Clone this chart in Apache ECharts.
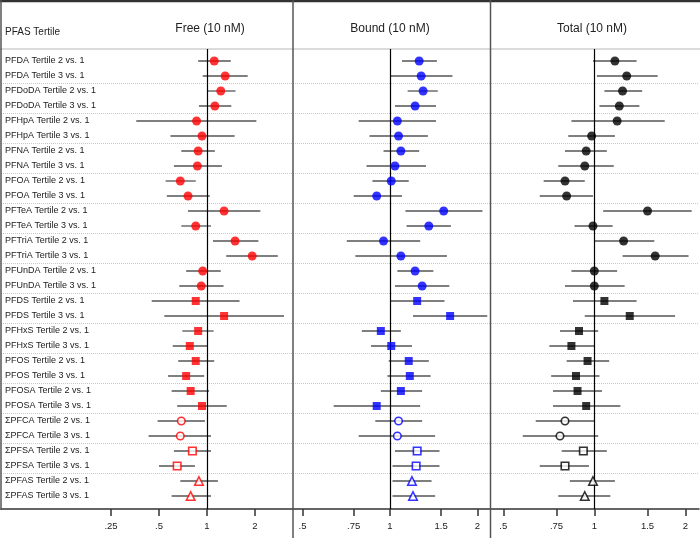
<!DOCTYPE html>
<html>
<head>
<meta charset="utf-8">
<script src="https://cdn.jsdelivr.net/npm/echarts@6/dist/echarts.min.js"></script>
<style>html,body{margin:0;padding:0;background:#fff;}#chart{width:700px;height:538px;}</style>
</head>
<body>
<div id="chart"></div>
<script>
const rowLabels = [
  'PFDA Tertile 2 vs. 1','PFDA Tertile 3 vs. 1',
  'PFDoDA Tertile 2 vs. 1','PFDoDA Tertile 3 vs. 1',
  'PFHpA Tertile 2 vs. 1','PFHpA Tertile 3 vs. 1',
  'PFNA Tertile 2 vs. 1','PFNA Tertile 3 vs. 1',
  'PFOA Tertile 2 vs. 1','PFOA Tertile 3 vs. 1',
  'PFTeA Tertile 2 vs. 1','PFTeA Tertile 3 vs. 1',
  'PFTriA Tertile 2 vs. 1','PFTriA Tertile 3 vs. 1',
  'PFUnDA Tertile 2 vs. 1','PFUnDA Tertile 3 vs. 1',
  'PFDS Tertile 2 vs. 1','PFDS Tertile 3 vs. 1',
  'PFHxS Tertile 2 vs. 1','PFHxS Tertile 3 vs. 1',
  'PFOS Tertile 2 vs. 1','PFOS Tertile 3 vs. 1',
  'PFOSA Tertile 2 vs. 1','PFOSA Tertile 3 vs. 1',
  '\u03a3PFCA Tertile 2 vs. 1','\u03a3PFCA Tertile 3 vs. 1',
  '\u03a3PFSA Tertile 2 vs. 1','\u03a3PFSA Tertile 3 vs. 1',
  '\u03a3PFAS Tertile 2 vs. 1','\u03a3PFAS Tertile 3 vs. 1'
];

const freeEst = [1.11,1.30,1.22,1.12,0.86,0.93,0.88,0.87,0.68,0.76,1.28,0.85,1.50,1.92,0.94,0.92,0.85,1.28,0.88,0.78,0.85,0.74,0.79,0.93,0.69,0.68,0.81,0.65,0.89,0.79];
const freeLo  = [0.88,0.94,1.01,0.89,0.36,0.59,0.69,0.62,0.55,0.56,0.76,0.69,1.09,1.32,0.74,0.67,0.45,0.54,0.70,0.61,0.66,0.57,0.60,0.65,0.49,0.43,0.62,0.50,0.68,0.60];
const freeHi  = [1.41,1.80,1.51,1.42,2.04,1.49,1.12,1.24,0.85,1.04,2.16,1.06,2.10,2.78,1.22,1.27,1.60,3.04,1.10,1.00,1.11,0.96,1.03,1.33,0.97,1.06,1.06,0.84,1.17,1.06];

const boundEst = [1.26,1.28,1.30,1.22,1.06,1.07,1.09,1.04,1.01,0.90,1.53,1.36,0.95,1.09,1.22,1.29,1.24,1.61,0.93,1.01,1.16,1.17,1.09,0.90,1.07,1.06,1.24,1.23,1.19,1.20];
const boundLo  = [1.10,1.00,1.15,1.04,0.78,0.85,0.95,0.83,0.87,0.75,1.13,1.14,0.71,0.76,1.06,1.04,1.00,1.20,0.80,0.86,0.99,0.98,0.93,0.64,0.89,0.78,1.04,1.02,1.02,1.02];
const boundHi  = [1.45,1.64,1.46,1.44,1.44,1.35,1.26,1.33,1.16,1.10,2.08,1.62,1.27,1.57,1.41,1.60,1.54,2.16,1.09,1.19,1.36,1.38,1.29,1.27,1.29,1.43,1.48,1.48,1.39,1.43];

const totalEst = [1.17,1.28,1.24,1.21,1.19,0.98,0.94,0.93,0.80,0.81,1.50,0.99,1.25,1.59,1.00,1.00,1.08,1.31,0.89,0.84,0.95,0.87,0.88,0.94,0.80,0.77,0.92,0.80,0.99,0.93];
const totalLo  = [0.99,1.02,1.08,1.04,0.84,0.82,0.80,0.76,0.68,0.66,1.07,0.86,1.00,1.24,0.84,0.80,0.85,0.93,0.77,0.71,0.81,0.72,0.73,0.73,0.64,0.58,0.78,0.66,0.83,0.76];
const totalHi  = [1.38,1.62,1.44,1.41,1.71,1.17,1.10,1.16,0.93,0.99,2.10,1.15,1.58,2.05,1.19,1.26,1.38,1.85,1.03,1.00,1.12,1.04,1.06,1.22,1.00,1.03,1.10,0.96,1.17,1.13];

const freeTicks = [0.25, 0.5, 1, 2];
const freeTickLabels = ['.25', '.5', '1', '2'];
const boundTicks = [0.5, 0.75, 1, 1.5, 2];
const boundTickLabels = ['.5', '.75', '1', '1.5', '2'];
const totalTicks = [0.5, 0.75, 1, 1.5, 2];
const totalTickLabels = ['.5', '.75', '1', '1.5', '2'];

const panelTitles = ['Free (10 nM)', 'Bound (10 nM)', 'Total (10 nM)'];
const rowHeader = 'PFAS Tertile';

const FONT = '"Liberation Sans", Arial, Helvetica, sans-serif';
const L2 = v => Math.log2(v);

function markerFor(i, color) {
  if (i < 16) return { symbol: 'circle', symbolSize: 9, itemStyle: { color: color, borderWidth: 0 } };
  if (i < 24) return { symbol: 'rect', symbolSize: 8, itemStyle: { color: color, borderWidth: 0 } };
  if (i < 26) return { symbol: 'circle', symbolSize: 7.5, itemStyle: { color: '#fff', borderColor: color, borderWidth: 1.6 } };
  if (i < 28) return { symbol: 'rect', symbolSize: 7.5, itemStyle: { color: '#fff', borderColor: color, borderWidth: 1.6 } };
  return { symbol: 'triangle', symbolSize: 8.5, itemStyle: { color: '#fff', borderColor: color, borderWidth: 1.6 } };
}

const panels = [
  { est: freeEst, lo: freeLo, hi: freeHi, ticks: freeTicks, labels: freeTickLabels, color: '#ff0000',
    left: 1, width: 292, min: -4.2917, max: 1.7917 },
  { est: boundEst, lo: boundLo, hi: boundHi, ticks: boundTicks, labels: boundTickLabels, color: '#0000ff',
    left: 293, width: 197, min: -1.1086, max: 1.1429 },
  { est: totalEst, lo: totalLo, hi: totalHi, ticks: totalTicks, labels: totalTickLabels, color: '#000000',
    left: 491, width: 208, min: -1.1352, max: 1.1505 }
];

const sepValues = [];
for (let k = 1.5; k < 28; k += 2) sepValues.push(k);

const grids = [], xAxes = [], yAxes = [], series = [];
panels.forEach((p, g) => {
  grids.push({ left: p.left, top: 49, width: p.width, height: 460 });
  const tickVals = p.ticks.map(L2);
  xAxes.push({
    type: 'value', gridIndex: g, min: p.min, max: p.max, position: 'bottom',
    axisLine: { show: true, onZero: false, lineStyle: { color: '#333', width: 1.5 } },
    axisTick: { show: true, length: 7, customValues: tickVals, lineStyle: { color: '#333', width: 1.5 } },
    axisLabel: {
      customValues: tickVals, margin: 12, fontSize: 9.5, color: '#222', fontFamily: FONT,
      formatter: v => { const idx = tickVals.findIndex(t => Math.abs(t - v) < 1e-6); return idx >= 0 ? p.labels[idx] : ''; }
    },
    splitLine: { show: false }
  });
  yAxes.push({
    type: 'value', gridIndex: g, inverse: true, min: -0.8, max: 29.8667,
    axisLine: { show: false, onZero: false }, axisTick: { show: false }, splitLine: { show: false },
    axisLabel: g === 0 ? {
      show: true, inside: true, margin: 4, fontSize: 9, color: '#1a1a1a', fontFamily: FONT,
      customValues: rowLabels.map((_, i) => i),
      formatter: v => rowLabels[Math.round(v)] || ''
    } : { show: false }
  });
  series.push({
    type: 'custom', xAxisIndex: g, yAxisIndex: g, silent: true,
    data: p.est.map((_, i) => [L2(p.lo[i]), L2(p.hi[i]), i]),
    encode: { x: [0, 1], y: 2 },
    renderItem: (params, api) => {
      const y = api.value(2);
      const a = api.coord([api.value(0), y]);
      const b = api.coord([api.value(1), y]);
      return { type: 'line', shape: { x1: a[0], y1: a[1], x2: b[0], y2: b[1] },
        style: { stroke: '#555', lineWidth: 1.3 } };
    },
    markLine: {
      silent: true, symbol: 'none', animation: false, label: { show: false },
      data: [
        ...sepValues.map(v => ({ yAxis: v, lineStyle: { color: '#c8c8c8', type: 'dotted', width: 1 } })),
        { xAxis: 0, lineStyle: { color: '#000', type: 'solid', width: 1.2 } }
      ]
    },
    z: 2
  });
  series.push({
    type: 'scatter', xAxisIndex: g, yAxisIndex: g, silent: true, z: 5,
    data: p.est.map((v, i) => Object.assign({ value: [L2(v), i] }, markerFor(i, p.color)))
  });
});

const graphics = [
  { type: 'line', shape: { x1: 0, y1: 1, x2: 700, y2: 1 }, style: { stroke: '#333', lineWidth: 2.5 }, z: 10 },
  { type: 'line', shape: { x1: 0, y1: 49, x2: 700, y2: 49 }, style: { stroke: '#cfcfcf', lineWidth: 1.5 }, z: 1 },
  { type: 'line', shape: { x1: 1, y1: 0, x2: 1, y2: 510 }, style: { stroke: '#555', lineWidth: 1.5 }, z: 10 },
  { type: 'line', shape: { x1: 293, y1: 0, x2: 293, y2: 538 }, style: { stroke: '#555', lineWidth: 1.5 }, z: 10 },
  { type: 'line', shape: { x1: 490.5, y1: 0, x2: 490.5, y2: 538 }, style: { stroke: '#555', lineWidth: 1.5 }, z: 10 },
  { type: 'text', x: 5, y: 32, style: { text: rowHeader, font: '10px ' + FONT, fill: '#222', textAlign: 'left', textVerticalAlign: 'middle' } },
  { type: 'text', x: 210, y: 29, style: { text: panelTitles[0], font: '12px ' + FONT, fill: '#222', textAlign: 'center', textVerticalAlign: 'middle' } },
  { type: 'text', x: 390, y: 29, style: { text: panelTitles[1], font: '12px ' + FONT, fill: '#222', textAlign: 'center', textVerticalAlign: 'middle' } },
  { type: 'text', x: 592, y: 29, style: { text: panelTitles[2], font: '12px ' + FONT, fill: '#222', textAlign: 'center', textVerticalAlign: 'middle' } }
];

const chart = echarts.init(document.getElementById('chart'), null, { renderer: 'canvas' });
chart.setOption({
  animation: false,
  backgroundColor: '#fff',
  grid: grids, xAxis: xAxes, yAxis: yAxes, series: series,
  graphic: graphics
});
</script>
</body>
</html>
